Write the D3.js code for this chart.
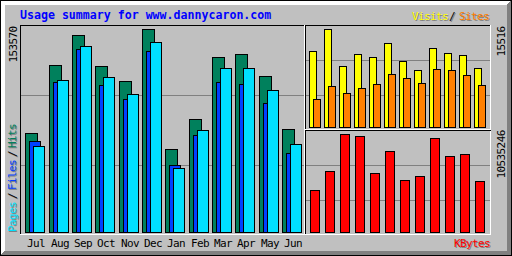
<!DOCTYPE html>
<html>
<head>
<meta charset="utf-8">
<script src="https://cdn.jsdelivr.net/npm/d3@7/dist/d3.min.js"></script>
<style>
  body { margin: 0; background: #c0c0c0; }
  svg { display: block; }
  text { font-family: "DejaVu Sans Mono", monospace; }
</style>
</head>
<body>
<script>
// Data
var months = ["Jul", "Aug", "Sep", "Oct", "Nov", "Dec", "Jan", "Feb", "Mar", "Apr", "May", "Jun"];
var hits   = [75047, 126387, 149264, 125632, 114307, 153570, 62967, 85617, 132427, 134692, 118082, 78067];
var files  = [69007, 113779, 138694, 111287, 100944, 137184, 50359, 73009, 113779, 112269, 97924, 59947];
var pages  = [65232, 115062, 140959, 117327, 104492, 143752, 48622, 77312, 124122, 124122, 107512, 66742];
var visits = [12033, 15516, 9658, 11558, 11083, 13300, 10450, 9025, 12508, 11717, 11400, 9342];
var sites  = [4433, 6492, 5383, 6175, 6808, 8392, 7758, 6967, 9183, 9025, 8233, 6650];
var kbytes = [4515105, 6557653, 10535246, 10320240, 6342648, 8707703, 5590130, 6020140, 10105235, 8170190, 8385195, 5482628];

var title = "Usage summary for www.dannycaron.com";
var maxHits = 153570, maxVisits = 15516, maxKbytes = 10535246;

var grey = "#c0c0c0", dkgrey = "#808080", black = "#000000", white = "#ffffff";
var colors = {
    hits: "#00805c", files: "#0040ff", pages: "#00e0ff",
    visits: "#ffff00", sites: "#ff8000", kbytes: "#ff0000", title: "#0000ff"
};

var width = 512, height = 256;
var svg = d3.select("body").append("svg")
    .attr("width", width)
    .attr("height", height);

svg.append("rect").attr("width", width).attr("height", height).attr("fill", grey);

var lines = svg.append("g").attr("shape-rendering", "crispEdges");

// pixel-row / pixel-column helpers (inclusive pixel coordinates)
function hline(row, x1, x2, color) {
    lines.append("rect").attr("x", x1).attr("y", row)
        .attr("width", x2 - x1 + 1).attr("height", 1).attr("fill", color);
}
function vline(col, y1, y2, color) {
    lines.append("rect").attr("x", col).attr("y", y1)
        .attr("width", 1).attr("height", y2 - y1 + 1).attr("fill", color);
}

// outer shadow border
for (var i = 0; i < 5; i++) {
    hline(i, i, width - 1 - i, white);
    vline(i, i, height - 1 - i, white);
}
for (var i = 0; i < 5; i++) {
    hline(height - 1 - i, i, width - 1 - i, dkgrey);
    vline(width - 1 - i, i, height - 1 - i, dkgrey);
}
hline(0, 0, width - 1, black);
hline(height - 1, 0, width - 1, black);
vline(0, 0, height - 1, black);
vline(width - 1, 0, height - 1, black);

// inner panel frames
hline(25, 20, 490, black);
vline(20, 25, 234, black);
hline(234, 20, 490, white);
vline(490, 25, 234, white);
vline(304, 25, 233, white);
vline(305, 25, 233, black);
hline(129, 305, 490, white);
hline(130, 305, 490, black);

// grid lines
[95, 165].forEach(function (r) { hline(r, 21, 303, dkgrey); });
[60, 95].forEach(function (r) { hline(r, 306, 489, dkgrey); });
[165, 200].forEach(function (r) { hline(r, 306, 489, dkgrey); });

// scales
var xMain = d3.scaleBand().domain(months).range([25.2, 25.2 + 12 * 23.35]);
var xRight = d3.scaleBand().domain(months).range([309, 309 + 12 * 15]);
var yMain = d3.scaleLinear().domain([0, maxHits]).range([232, 29]);
var yVisits = d3.scaleLinear().domain([0, maxVisits]).range([127, 29]);
var yKbytes = d3.scaleLinear().domain([0, maxKbytes]).range([232, 134]);

// draws gd-style bars: filled box with a 1px black outline
function bars(values, xs, offset, w, y, color) {
    svg.append("g").attr("shape-rendering", "crispEdges")
        .selectAll("rect")
        .data(values)
        .enter().append("rect")
        .attr("x", function (d, i) { return Math.round(xs(months[i])) + offset + 0.5; })
        .attr("y", function (d) { return Math.round(y(d)) + 0.5; })
        .attr("width", w)
        .attr("height", function (d) { return y(0) - Math.round(y(d)); })
        .attr("fill", color)
        .attr("stroke", black)
        .attr("stroke-width", 1);
}

bars(hits, xMain, 0, 12, yMain, colors.hits);
bars(files, xMain, 4, 11, yMain, colors.files);
bars(pages, xMain, 8, 11, yMain, colors.pages);
bars(visits, xRight, 0, 7, yVisits, colors.visits);
bars(sites, xRight, 4, 7, yVisits, colors.sites);
bars(kbytes, xRight, 1, 9, yKbytes, colors.kbytes);

// text helpers
function label(txt, x, y, color, opts) {
    opts = opts || {};
    var t = svg.append("text")
        .attr("x", x).attr("y", y)
        .attr("fill", color)
        .attr("font-size", opts.size || 11)
        .attr("letter-spacing", opts.size ? 0 : -0.6)
        .attr("font-weight", opts.weight || "normal")
        .attr("text-anchor", opts.anchor || "start")
        .text(txt);
    if (opts.up) t.attr("transform", "rotate(-90," + x + "," + y + ")");
    return t;
}
function shadowLabel(txt, x, y, color, opts) {
    label(txt, x + 1, y + 1, dkgrey, opts);
    label(txt, x, y, color, opts);
}

// title
label(title, 20, 19, colors.title, { size: 11.6, weight: "bold" });

// month labels
months.forEach(function (m) {
    label(m, Math.round(xMain(m)) + 11, 247, black, { anchor: "middle" });
});

// left legend (vertical)
var up = { up: true };
shadowLabel("Pages", 16, 232, colors.pages, up);
shadowLabel("/", 16, 199, black, up);
shadowLabel("Files", 16, 190, colors.files, up);
shadowLabel("/", 16, 157, black, up);
shadowLabel("Hits", 16, 148, colors.hits, up);

// top right legend
shadowLabel("Visits", 412, 20, colors.visits);
shadowLabel("/", 449, 20, black);
shadowLabel("Sites", 459, 20, colors.sites);

// bottom right legend
shadowLabel("KBytes", 454, 247, colors.kbytes);

// max value labels
label(String(maxHits), 16.5, 62.5, black, up);
label(String(maxVisits), 504.5, 56.5, black, up);
label(String(maxKbytes), 504.5, 178.5, black, up);
</script>
</body>
</html>
